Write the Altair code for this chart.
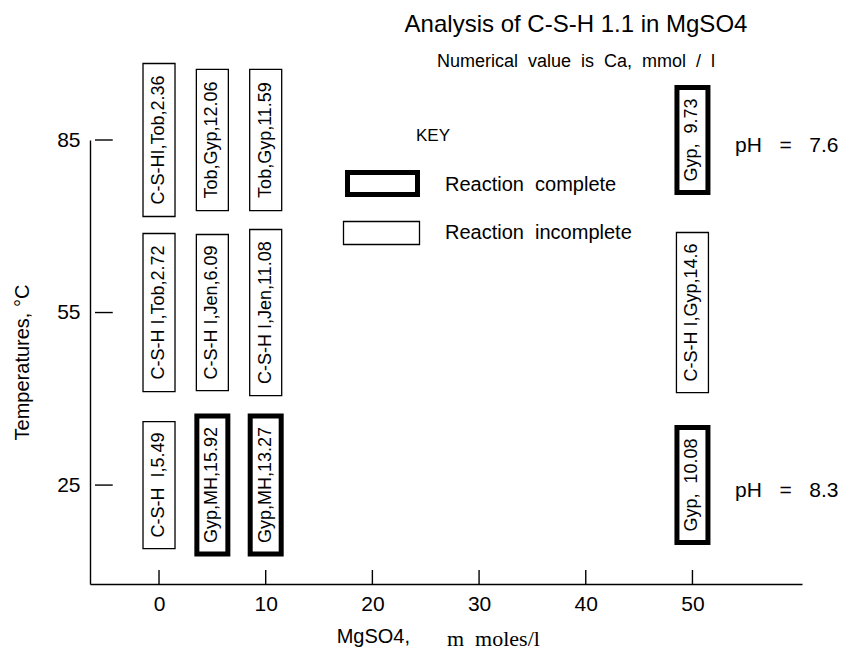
import altair as alt
import pandas as pd

# ---------------- data ----------------
mgso4 = [0, 5, 10, 50]
temps = [85, 55, 25]
labels_85 = ["C-S-HI,Tob,2.36", "Tob,Gyp,12.06", "Tob,Gyp,11.59", "Gyp,  9.73"]
labels_55 = ["C-S-H I,Tob,2.72", "C-S-H I,Jen,6.09", "C-S-H I,Jen,11.08", "C-S-H I,Gyp,14.6"]
labels_25 = ["C-S-H  I,5.49", "Gyp,MH,15.92", "Gyp,MH,13.27", "Gyp,  10.08"]
complete_85 = [False, False, False, True]
complete_55 = [False, False, False, False]
complete_25 = [False, True, True, True]
ph_temps = [85, 25]
ph_labels = ["pH   =   7.6", "pH   =   8.3"]
x_ticks = [0, 10, 20, 30, 40, 50]
y_ticks = [25, 55, 85]
key_labels = ["Reaction  complete", "Reaction  incomplete"]


def keep_spaces(s):
    # SVG collapses repeated spaces; keep the wide gaps of the original lettering
    return s.replace("  ", " \u00a0")


# ---------------- layout ----------------
PLOT_W, PLOT_H = 712, 444
X_DOM = [-6.0, 59.8]
Y_DOM = [7.8, 85]
PX_X = PLOT_W / (X_DOM[1] - X_DOM[0])
PX_Y = PLOT_H / (Y_DOM[1] - Y_DOM[0])
FONT = "Liberation Sans"
LABEL_SIZE = 18

# Arial / Liberation Sans advance widths (per 1000 em)
W = {" ": 278, "\u00a0": 278, ",": 278, "-": 333, ".": 278, "/": 278, "C": 722, "S": 667,
     "H": 722, "I": 278, "T": 611, "G": 778, "M": 833, "J": 500, "o": 556, "b": 556,
     "y": 500, "p": 556, "e": 556, "n": 556}
for d in "0123456789":
    W[d] = 556


def text_px(s, size):
    return sum(W.get(c, 556) for c in s) * size / 1000.0


rows = []
for t, labs, comp in [(85, labels_85, complete_85), (55, labels_55, complete_55),
                      (25, labels_25, complete_25)]:
    for m, lab, c in zip(mgso4, labs, comp):
        half = (text_px(lab, LABEL_SIZE) + 22) / 2 / PX_Y
        rows.append({"mgso4": m, "temp": t, "label": keep_spaces(lab), "complete": c,
                     "lo": t - half, "hi": t + half})
boxes = pd.DataFrame(rows)

xs = alt.Scale(domain=X_DOM, nice=False, zero=False)
ys = alt.Scale(domain=Y_DOM, nice=False, zero=False)

base = alt.Chart(boxes)

thin = base.transform_filter("!datum.complete").mark_bar(
    size=32, fill="white", stroke="black", strokeWidth=1.3
).encode(
    x=alt.X("mgso4:Q", scale=xs,
            axis=alt.Axis(values=x_ticks, title=None, grid=False, tickSize=0,
                          labelFontSize=21, labelFont=FONT, labelColor="black",
                          labelPadding=9, domainColor="black", domainWidth=1.4)),
    y=alt.Y("lo:Q", scale=ys,
            axis=alt.Axis(values=y_ticks, title="Temperatures, °C", grid=False, tickSize=0,
                          labelFontSize=21, labelFont=FONT, labelColor="black",
                          labelPadding=10, domainColor="black", domainWidth=1.4,
                          titleFont=FONT, titleFontSize=20, titleFontWeight="normal",
                          titleColor="black", titlePadding=24)),
    y2="hi:Q",
)

thick = base.transform_filter("datum.complete").mark_bar(
    size=31, fill="white", stroke="black", strokeWidth=5
).encode(x=alt.X("mgso4:Q", scale=xs), y=alt.Y("lo:Q", scale=ys), y2="hi:Q")

texts = base.mark_text(angle=270, fontSize=LABEL_SIZE, font=FONT, color="black",
                       align="center", baseline="middle").encode(
    x=alt.X("mgso4:Q", scale=xs), y=alt.Y("temp:Q", scale=ys), text="label:N")

# inward ticks
yt = pd.DataFrame({"t": y_ticks, "x0": X_DOM[0], "x1": X_DOM[0] + 18 / PX_X})
xt = pd.DataFrame({"t": x_ticks, "y0": Y_DOM[0], "y1": Y_DOM[0] + 14 / PX_Y})
ytick = alt.Chart(yt).mark_rule(color="black", strokeWidth=1.4).encode(
    y=alt.Y("t:Q", scale=ys), x=alt.X("x0:Q", scale=xs), x2="x1:Q")
xtick = alt.Chart(xt).mark_rule(color="black", strokeWidth=1.4).encode(
    x=alt.X("t:Q", scale=xs), y=alt.Y("y0:Q", scale=ys), y2="y1:Q")

# pH annotations
ph = alt.Chart(pd.DataFrame({"t": ph_temps, "lab": [keep_spaces(s) for s in ph_labels],
                             "m": 54.0})).mark_text(
    align="left", baseline="middle", fontSize=21, font=FONT, color="black", dy=6
).encode(x=alt.X("m:Q", scale=xs), y=alt.Y("t:Q", scale=ys), text="lab:N")

# titles and key (pixel positions relative to plot area)
one = pd.DataFrame({"a": [0]})
title = alt.Chart(one).mark_text(text="Analysis of C-S-H 1.1 in MgSO4", fontSize=24,
                                 font=FONT, color="black", align="center",
                                 baseline="middle").encode(x=alt.value(486), y=alt.value(-115))
subtitle = alt.Chart(one).mark_text(
    text=keep_spaces("Numerical  value  is  Ca,  mmol  /  l"), fontSize=18,
    font=FONT, color="black", align="center", baseline="middle"
).encode(x=alt.value(486), y=alt.value(-78))
xtitle1 = alt.Chart(one).mark_text(text="MgSO4,", fontSize=20, font=FONT, color="black",
                                   align="right", baseline="middle").encode(
    x=alt.value(320), y=alt.value(497))
xtitle2 = alt.Chart(one).mark_text(text=keep_spaces("m  moles/l"), fontSize=22,
                                   font="Liberation Serif", color="black", align="left",
                                   baseline="middle").encode(
    x=alt.value(357), y=alt.value(499))

key_title = alt.Chart(one).mark_text(text="KEY", fontSize=17, font=FONT, color="black",
                                     align="center", baseline="middle").encode(
    x=alt.value(343), y=alt.value(-4))
key_box1 = alt.Chart(one).mark_rect(fill="white", stroke="black", strokeWidth=5).encode(
    x=alt.value(257.5), x2=alt.value(327.5), y=alt.value(32.5), y2=alt.value(54.5))
key_box2 = alt.Chart(one).mark_rect(fill="white", stroke="black", strokeWidth=1.3).encode(
    x=alt.value(253.5), x2=alt.value(329.5), y=alt.value(81.5), y2=alt.value(104.5))
key_text = alt.Chart(pd.DataFrame({"lab": [keep_spaces(s) for s in key_labels],
                                   "yy": [45, 93]})).mark_text(
    fontSize=20, font=FONT, color="black", align="left", baseline="middle"
).encode(x=alt.value(355), y=alt.Y("yy:Q", scale=None, axis=None), text="lab:N")

chart = alt.layer(
    thin, thick, texts, ytick, xtick, ph, title, subtitle, xtitle1, xtitle2,
    key_title, key_box1, key_box2, key_text
).properties(
    width=PLOT_W, height=PLOT_H,
    autosize=alt.AutoSizeParams(type="none"),
    padding={"left": 90, "top": 140, "right": 44, "bottom": 66},
    background="white",
).configure_view(stroke=None)

chart.save("out.html", embed_options={"renderer": "svg", "actions": False})
